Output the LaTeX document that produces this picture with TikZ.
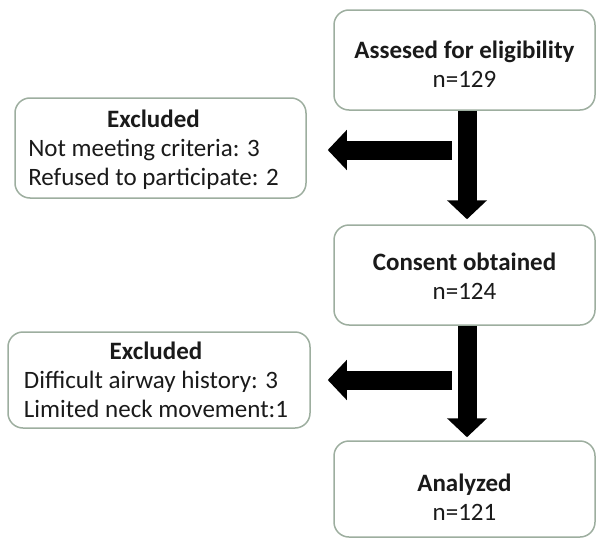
\documentclass[tikz,border=0pt]{standalone}
\usepackage{fontspec}
\setmainfont{Carlito}
\usepackage{xcolor}
\usepackage{tikz}
\usetikzlibrary{arrows.meta,calc,positioning}
\definecolor{FrameGreen}{HTML}{9DAE9F}
\definecolor{Ink}{HTML}{1A1A1A}
% move a block down without changing the node size
\newcommand{\lowered}[2]{\raisebox{-#1}[\height][\depth]{#2}}

\begin{document}
\begin{tikzpicture}[
  x=1pt,y=-1pt,
  box/.style={draw=FrameGreen,line width=1.5pt,rounded corners=15pt,fill=white,minimum width=261pt,minimum height=100pt,align=center,text=Ink,inner sep=0pt,font=\fontsize{25}{29}\selectfont},
  excl/.style={draw=FrameGreen,line width=1.5pt,rounded corners=15pt,fill=white,align=center,text=Ink,inner sep=0pt,font=\fontsize{25}{29}\selectfont},
  blk/.style={line width=19pt,draw=black,-{Triangle[length=19pt,width=39pt]}}
]
\useasboundingbox (0,0) rectangle (597,538);
\node[box] (assessed) at (464.5,60) {\lowered{7pt}{\begin{tabular}{@{}c@{}}\textbf{Assesed for eligibility}\\n=129\end{tabular}}};
\node[box] (consent) at (464.5,275) {\lowered{4pt}{\begin{tabular}{@{}c@{}}\textbf{Consent obtained}\\n=124\end{tabular}}};
\node[box,minimum height=96pt] (analyzed) at (464.5,489) {\lowered{11pt}{\begin{tabular}{@{}c@{}}\textbf{Analyzed}\\n=121\end{tabular}}};
\node[excl,minimum width=291pt,minimum height=100pt] (excl1) at (160.5,148)
  {\lowered{3pt}{\begin{tabular}{@{}l@{\hspace{14pt}}}\multicolumn{1}{@{}c@{\hspace{14pt}}}{\textbf{Excluded}}\\Not meeting criteria: 3\\Refused to participate: 2\end{tabular}}};
\node[excl,minimum width=302pt,minimum height=96pt] (excl2) at (159,380)
  {\lowered{3pt}{\begin{tabular}{@{}l@{\hspace{6pt}}}\multicolumn{1}{@{}c@{\hspace{6pt}}}{\textbf{Excluded}}\\Difficult airway history: 3\\Limited neck movement:1\end{tabular}}};
\coordinate (j1) at (452,150);
\coordinate (j2) at (452,380);

\draw[blk] ([xshift=2.5pt]assessed.south) -- ([xshift=2.5pt,yshift=5pt]consent.north);
\draw[blk] ([xshift=2.5pt]consent.south) -- ([xshift=2.5pt,yshift=3pt]analyzed.north);
\draw[blk,shorten >=21pt] (j1) -- (j1 -| excl1.east);
\draw[blk,shorten >=17pt] (j2) -- (j2 -| excl2.east);
\end{tikzpicture}
\end{document}
